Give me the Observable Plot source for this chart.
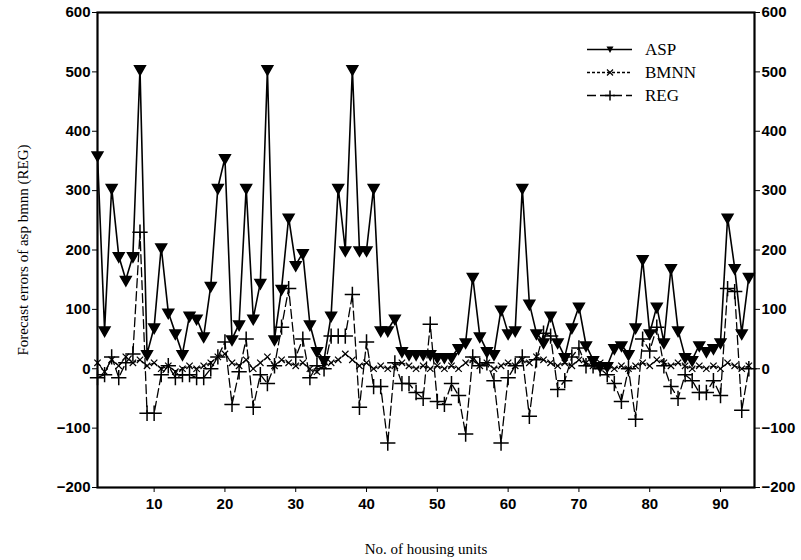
<!DOCTYPE html>
<html><head><meta charset="utf-8">
<script src="https://cdn.jsdelivr.net/npm/d3@7"></script>
<script src="https://cdn.jsdelivr.net/npm/@observablehq/plot@0.6"></script>
<style>
body{margin:0;background:#fff;}
#wrap{position:relative;width:801px;height:560px;}
#legend{position:absolute;left:0;top:0;pointer-events:none;}
</style></head><body><div id="wrap"></div>
<script>
const units = [2,3,4,5,6,7,8,9,10,11,12,13,14,15,16,17,18,19,20,21,22,23,24,25,26,27,28,29,30,31,32,33,34,35,36,37,38,39,40,41,42,43,44,45,46,47,48,49,50,51,52,53,54,55,56,57,58,59,60,61,62,63,64,65,66,67,68,69,70,71,72,73,74,75,76,77,78,79,80,81,82,83,84,85,86,87,88,89,90,91,92,93,94];
const asp = [360,65,305,190,150,190,505,25,70,205,95,60,25,90,85,55,140,305,355,50,75,305,85,145,505,50,135,255,175,195,75,30,15,90,305,200,505,200,200,305,65,65,85,30,25,25,25,25,20,20,20,35,45,155,55,30,25,100,60,65,305,110,60,45,90,45,20,70,105,40,15,5,5,35,40,25,70,185,60,105,45,170,65,20,15,40,30,35,45,255,170,60,155];
const bmnn = [10,-5,15,5,20,10,15,5,10,0,5,-5,0,5,0,5,10,20,25,10,5,15,0,10,20,5,15,10,5,10,0,-5,5,10,15,25,15,5,10,0,5,0,5,10,5,0,5,0,5,0,5,0,10,15,5,10,0,5,10,5,15,10,20,15,10,5,10,5,15,10,5,10,5,0,5,0,5,10,5,15,10,5,10,5,0,5,0,5,0,10,5,0,5];
const reg = [-15,-10,20,-15,10,25,230,-75,-75,-10,5,-15,-10,-10,-15,-15,0,20,45,-60,-5,50,-65,-10,-25,5,70,135,20,50,-15,5,0,55,55,55,125,-65,45,-30,-30,-125,10,-25,-25,-40,-50,75,-55,-60,-25,-45,-110,20,5,10,-20,-125,-15,5,20,-80,15,60,55,-35,-20,20,35,5,5,0,-10,-25,-55,0,-85,50,30,70,5,-30,-50,-10,-20,-40,-40,-20,-45,135,130,-70,0];
const xTicks = [10,20,30,40,50,60,70,80,90];
const yTicks = [-200,-100,0,100,200,300,400,500,600];
const seriesNames = ["ASP","BMNN","REG"];

const rowsOf = (vals) => units.map((u, i) => ({unit: u, value: vals[i]}));
const aspRows = rowsOf(asp), bmnnRows = rowsOf(bmnn), regRows = rowsOf(reg);

const font = "'Liberation Serif', 'Times New Roman', serif";
const tickFont = "'Liberation Sans', Arial, sans-serif";

const chart = Plot.plot({
  width: 801, height: 560,
  marginLeft: 97, marginRight: 47, marginTop: 12, marginBottom: 73,
  style: {fontFamily: font, fontSize: "15px", background: "#fff", color: "#000", overflow: "visible"},
  x: {domain: [2, 94.8]},
  y: {domain: [-200, 600]},
  marks: [
    Plot.axisX({ticks: xTicks, tickSize: 5, tickPadding: 6, fontSize: 15, fontWeight: "bold", fontFamily: tickFont, label: null}),
    Plot.axisX({ticks: [], tickSize: 0, label: "No. of housing units", labelAnchor: "center", labelOffset: 66, labelArrow: "none", fontSize: 15, fontFamily: font}),
    Plot.axisY({anchor: "left", ticks: yTicks, tickSize: 5, tickPadding: 2, fontSize: 15, fontWeight: "bold", fontFamily: tickFont, label: null}),
    Plot.axisY({anchor: "left", ticks: [], tickSize: 0, label: "Forecast errors of asp bmnn (REG)", labelAnchor: "center", labelOffset: 80, labelArrow: "none", fontSize: 15, fontFamily: font}),
    Plot.axisY({anchor: "right", ticks: yTicks, tickSize: 5, tickPadding: 2, fontSize: 15, fontWeight: "bold", fontFamily: tickFont, label: null}),
    Plot.line(regRows, {x: "unit", y: "value", stroke: "#000", strokeWidth: 1.3, strokeDasharray: "9,4"}),
    Plot.dot(regRows, {x: "unit", y: "value", symbol: "plus", r: 5, stroke: "#000", strokeWidth: 1.5}),
    Plot.line(bmnnRows, {x: "unit", y: "value", stroke: "#000", strokeWidth: 1.2, strokeDasharray: "3,2"}),
    Plot.dot(bmnnRows, {x: "unit", y: "value", symbol: "times", r: 3, stroke: "#000", strokeWidth: 1.2}),
    Plot.line(aspRows, {x: "unit", y: "value", stroke: "#000", strokeWidth: 1.6}),
    Plot.dot(aspRows, {x: "unit", y: "value", symbol: "triangle", r: 4, fill: "#000", stroke: "#000", rotate: 180}),
    Plot.frame({stroke: "#000", strokeWidth: 2.2})
  ]
});
document.getElementById("wrap").appendChild(chart);

// legend overlay (inside plot area, top right)
const leg = d3.select("#wrap").append("svg").attr("id", "legend").attr("width", 801).attr("height", 560);
const dashes = [null, "3,2", "9,4"];
seriesNames.forEach((name, i) => {
  const y = 49.5 + i * 23;
  const g = leg.append("g");
  g.append("line").attr("x1", 587).attr("x2", 632).attr("y1", y).attr("y2", y)
    .attr("stroke", "#000").attr("stroke-width", i === 0 ? 1.6 : 1.5)
    .attr("stroke-dasharray", dashes[i]);
  const cx = 610;
  if (i === 0) {
    g.append("path").attr("d", `M${cx-3.5},${y-3}L${cx+3.5},${y-3}L${cx},${y+3.5}Z`).attr("fill", "#000");
  } else if (i === 1) {
    g.append("path").attr("d", `M${cx-3},${y-3}L${cx+3},${y+3}M${cx-3},${y+3}L${cx+3},${y-3}`).attr("stroke", "#000").attr("stroke-width", 1.2);
  } else {
    g.append("path").attr("d", `M${cx-5},${y}L${cx+5},${y}M${cx},${y-5}L${cx},${y+5}`).attr("stroke", "#000").attr("stroke-width", 1.5);
  }
  g.append("text").attr("x", 645).attr("y", y + 5.5).attr("font-family", font).attr("font-size", 17).text(name);
});
</script>
</body></html>
